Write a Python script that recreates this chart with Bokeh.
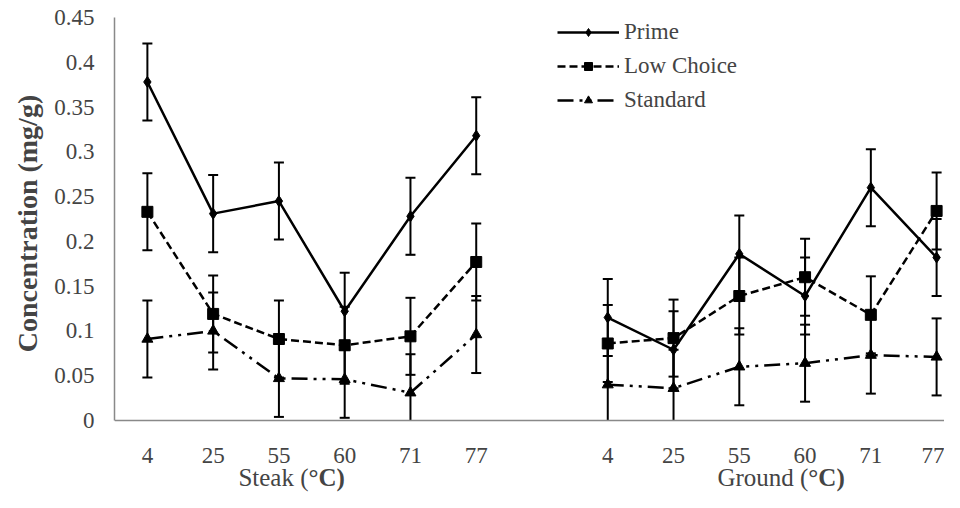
from bokeh.plotting import figure
from bokeh.models import ColumnDataSource, FixedTicker, Label, Legend, LegendItem, Range1d
from bokeh.embed import file_html
from bokeh.resources import INLINE

temps = ["4", "25", "55", "60", "71", "77"]
groups = ["Steak", "Ground"]
series = ["Prime", "Low Choice", "Standard"]

prime_steak = [0.378, 0.231, 0.245, 0.122, 0.228, 0.318]
prime_ground = [0.115, 0.079, 0.186, 0.139, 0.260, 0.182]
lowchoice_steak = [0.233, 0.119, 0.091, 0.084, 0.094, 0.177]
lowchoice_ground = [0.086, 0.092, 0.139, 0.160, 0.118, 0.234]
standard_steak = [0.091, 0.100, 0.047, 0.046, 0.031, 0.096]
standard_ground = [0.040, 0.036, 0.060, 0.064, 0.073, 0.071]
err = 0.043

y_ticks = [0, 0.05, 0.1, 0.15, 0.2, 0.25, 0.3, 0.35, 0.4, 0.45]
y_tick_labels = ["0", "0.05", "0.1", "0.15", "0.2", "0.25", "0.3", "0.35", "0.4", "0.45"]

FONT = "Liberation Serif"
FS = "23px"
Y_MIN = -0.0804  # space below zero for category labels and group titles

p = figure(width=944, height=492, output_backend="svg", toolbar_location=None,
           x_range=Range1d(-0.5, 12.12), y_range=Range1d(Y_MIN, 0.45),
           min_border_left=114, min_border_right=0, min_border_top=17, min_border_bottom=0)
p.outline_line_color = None
p.xgrid.visible = False
p.ygrid.visible = False

# x positions: steak at 0..5, blank slot 6, ground at 7..12
steak_x = list(range(len(temps)))
ground_x = [i + len(temps) + 1 for i in range(len(temps))]

styles = {
    "Prime": dict(dash="solid", marker="diamond", size=11),
    "Low Choice": dict(dash="8 4", marker="square", size=11),
    "Standard": dict(dash="16 6 3 6 3 6", marker="triangle", size=11),
}
data = {
    "Prime": (prime_steak, prime_ground),
    "Low Choice": (lowchoice_steak, lowchoice_ground),
    "Standard": (standard_steak, standard_ground),
}

legend_items = []
for name in series:
    st = styles[name]
    rends = []
    for xs, ys in zip((steak_x, ground_x), data[name]):
        lo = [max(v - err, 0) for v in ys]
        hi = [v + err for v in ys]
        src = ColumnDataSource(dict(x=xs, y=ys, lo=lo, hi=hi))
        # error bars (clipped at the axis like the original)
        p.segment(x0="x", y0="lo", x1="x", y1="hi", source=src, line_color="black", line_width=2)
        p.scatter("x", "hi", source=src, marker="dash", size=10, line_color="black", line_width=2)
        lo_x = [x for x, v in zip(xs, ys) if v - err > 0]
        lo_y = [v - err for v in ys if v - err > 0]
        p.scatter(lo_x, lo_y, marker="dash", size=10, line_color="black", line_width=2)
        l = p.line("x", "y", source=src, line_color="black", line_width=2.5, line_dash=st["dash"])
        s = p.scatter("x", "y", source=src, marker=st["marker"], size=st["size"],
                      fill_color="black", line_color="black")
        rends += [l, s]
    legend_items.append(LegendItem(label=name, renderers=rends[:2]))

legend = Legend(items=legend_items, location=(443, 379), label_text_font=FONT,
                label_text_font_size=FS, glyph_width=62, glyph_height=20,
                label_height=26, spacing=8, padding=0, margin=0,
                border_line_alpha=0, background_fill_alpha=0, label_standoff=5)
p.add_layout(legend)

# axes
p.yaxis.ticker = FixedTicker(ticks=y_ticks)
p.yaxis.bounds = (0, 0.45)
p.yaxis.major_label_overrides = {t: l for t, l in zip(y_ticks, y_tick_labels)}
# leading no-break spaces keep the rotated title centred on the 0-0.45 part of the axis
p.yaxis.axis_label = "\u00a0" * 9 + "Concentration (mg/g)"
p.yaxis.axis_label_text_font = FONT
p.yaxis.axis_label_text_font_style = "bold"
p.yaxis.axis_label_text_font_size = "28px"
p.yaxis.axis_label_standoff = 8
p.yaxis.major_label_text_font = FONT
p.yaxis.major_label_text_font_size = FS
p.yaxis.major_label_standoff = 14
p.yaxis.major_tick_line_color = None
p.yaxis.minor_tick_line_color = None
p.yaxis.axis_line_color = "#898989"
p.yaxis.axis_line_width = 1.5

all_x = steak_x + ground_x
p.xaxis.fixed_location = 0
p.xaxis.ticker = FixedTicker(ticks=all_x)
p.xaxis.major_label_overrides = {x: t for x, t in zip(all_x, temps + temps)}
p.xaxis.major_label_text_font = FONT
p.xaxis.major_label_text_font_size = FS
p.xaxis.major_label_standoff = 22
p.xaxis.major_tick_line_color = None
p.xaxis.minor_tick_line_color = None
p.xaxis.axis_line_color = "#898989"
p.xaxis.axis_line_width = 1.5

# group titles with mixed weight
for gname, gx in zip(groups, (steak_x, ground_x)):
    cx = (gx[0] + gx[-1]) / 2 + (-0.05 if gname == "Steak" else 0.55)
    p.add_layout(Label(x=cx, y=-0.064, text=gname + " (", text_font=FONT, text_font_size="25px",
                       text_align="right", text_baseline="middle"))
    p.add_layout(Label(x=cx, y=-0.064, text="°C)", text_font=FONT, text_font_size="25px",
                       text_font_style="bold", text_align="left", text_baseline="middle"))

open("out.html", "w").write(file_html(p, INLINE))
